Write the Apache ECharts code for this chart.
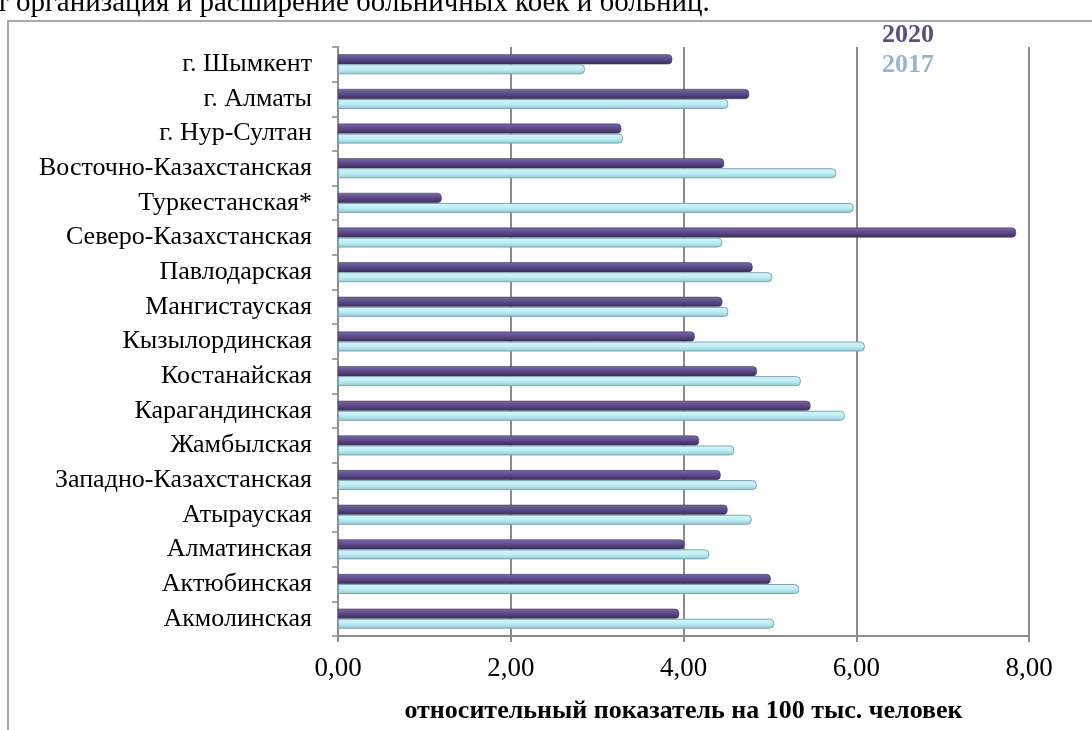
<!DOCTYPE html>
<html><head><meta charset="utf-8">
<script src="https://cdn.jsdelivr.net/npm/echarts@6/dist/echarts.min.js"></script>
<style>html,body{margin:0;padding:0;background:#fff}#c{width:1092px;height:730px}</style>
</head><body><div id="c"></div>
<script>
const categories = ['г. Шымкент','г. Алматы','г. Нур-Султан','Восточно-Казахстанская','Туркестанская*','Северо-Казахстанская','Павлодарская','Мангистауская','Кызылординская','Костанайская','Карагандинская','Жамбылская','Западно-Казахстанская','Атырауская','Алматинская','Актюбинская','Акмолинская'];
const values2020 = [3.87,4.76,3.28,4.47,1.20,7.85,4.80,4.45,4.13,4.85,5.47,4.18,4.43,4.51,4.01,5.01,3.95];
const values2017 = [2.86,4.52,3.30,5.77,5.97,4.45,5.03,4.52,6.10,5.36,5.87,4.59,4.85,4.79,4.30,5.34,5.05];
const xTicks = ['0,00','2,00','4,00','6,00','8,00'];
const seriesNames = ['2020','2017'];
const axisTitle = 'относительный показатель на 100 тыс. человек';
const topText = 'т организация и расширение больничных коек и больниц.';

const serif = '"Liberation Serif","Times New Roman",serif';
const chart = echarts.init(document.getElementById('c'), null, {renderer:'canvas'});
const purple = new echarts.graphic.LinearGradient(0,0,0,1,[{offset:0,color:'#7a68a3'},{offset:0.45,color:'#604c8c'},{offset:1,color:'#3b2c5a'}]);
const cyan = new echarts.graphic.LinearGradient(0,0,0,1,[{offset:0,color:'#d4f7fb'},{offset:0.5,color:'#bdeef5'},{offset:1,color:'#93c9d2'}]);
chart.setOption({
  animation:false,
  textStyle:{fontFamily:serif},
  grid:{left:338,right:63,top:47,bottom:94,containLabel:false},
  legend:{
    orient:'vertical', left:872, top:17, itemWidth:0, itemHeight:0, itemGap:4,
    selectedMode:false,
    data:[
      {name:seriesNames[0], icon:'none', textStyle:{color:'#5e4a84',fontWeight:'bold',fontSize:26,fontFamily:serif}},
      {name:seriesNames[1], icon:'none', textStyle:{color:'#95b3d7',fontWeight:'bold',fontSize:26,fontFamily:serif}}
    ]
  },
  xAxis:{
    type:'value', min:0, max:8, interval:2,
    axisLine:{show:true,lineStyle:{color:'#8c8c8c',width:2}},
    axisTick:{show:true,length:6,lineStyle:{color:'#8c8c8c',width:2}},
    axisLabel:{color:'#000',fontSize:27,fontFamily:serif,margin:19,formatter:(v)=>xTicks[Math.round(v/2)]},
    splitLine:{show:true,lineStyle:{color:'#8c8c8c',width:2}},
    name:axisTitle, nameLocation:'middle', nameGap:62,
    nameTextStyle:{color:'#000',fontSize:26,fontWeight:'bold',fontFamily:serif}
  },
  yAxis:{
    type:'category', data:categories, inverse:true,
    axisLine:{show:true,lineStyle:{color:'#8c8c8c',width:2}},
    axisTick:{show:true,length:6,lineStyle:{color:'#8c8c8c',width:1.5}},
    axisLabel:{color:'#000',fontSize:26,fontFamily:serif,margin:26}
  },
  series:[
    {name:seriesNames[0], type:'bar', data:values2020, barWidth:10, barGap:'0%',
     itemStyle:{color:purple,borderColor:'#3a2c55',borderWidth:0.5,borderRadius:[0,4,4,0]}},
    {name:seriesNames[1], type:'bar', data:values2017, barWidth:10, barGap:'0%',
     itemStyle:{color:cyan,borderColor:'#7fa4ab',borderWidth:1,borderRadius:[0,4,4,0]}}
  ],
  graphic:[
    {type:'rect', shape:{x:8,y:21,width:1200,height:800}, style:{fill:'none',stroke:'#8c8c8c',lineWidth:1.5}, silent:true},
    {type:'text', left:-4, top:-11, style:{text:topText, fill:'#000', font:'29px '+serif}, silent:true}
  ]
});
</script></body></html>
